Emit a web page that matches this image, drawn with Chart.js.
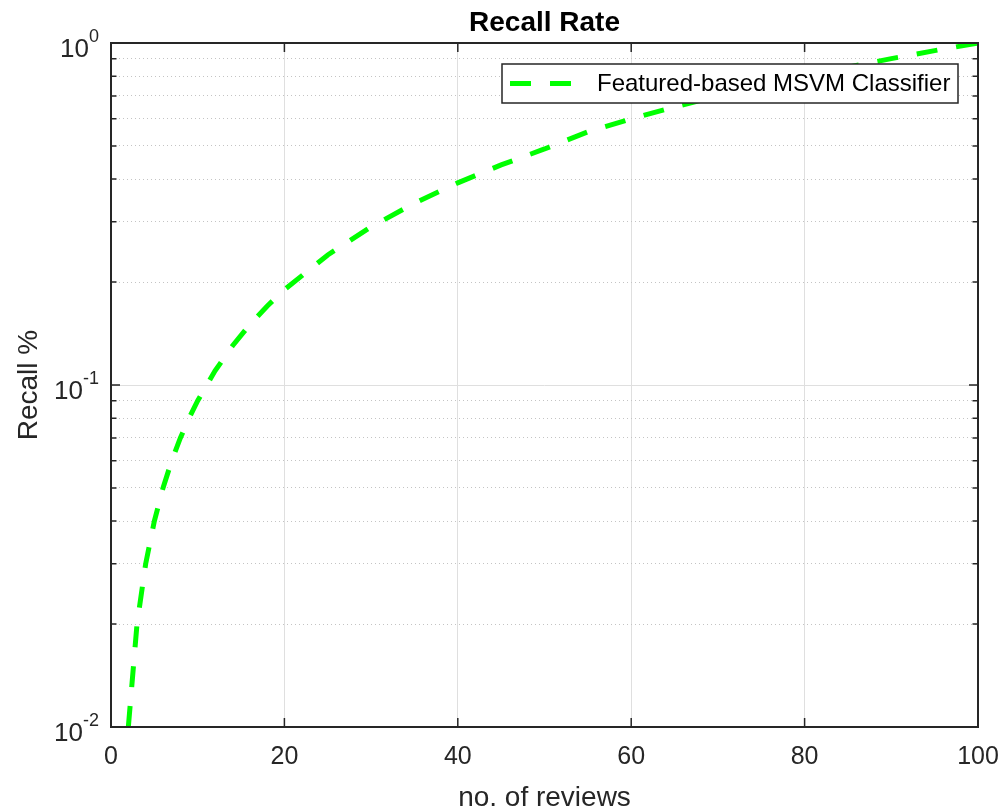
<!DOCTYPE html>
<html>
<head>
<meta charset="utf-8">
<script src="https://cdn.jsdelivr.net/npm/chart.js@4"></script>
<style>
  body { margin: 0; background: #fff; }
  canvas { display: block; }
</style>
</head>
<body>
<canvas id="recallChart" width="1007" height="812"></canvas>
<script>
// values
const reviews = [2, 3, 4, 5, 6, 7, 8, 9, 10, 12, 14, 16, 18, 20, 25, 30, 35, 40, 45, 50, 55, 60, 65, 70, 75, 80, 85, 90, 95, 100];
const recall = [0.01, 0.02, 0.03, 0.04, 0.05, 0.06, 0.07, 0.08, 0.09, 0.11, 0.13, 0.15, 0.17, 0.19, 0.24, 0.29, 0.34, 0.39, 0.44, 0.49, 0.55, 0.6, 0.65, 0.7, 0.75, 0.8, 0.85, 0.9, 0.95, 1.0];
const xTicks = [0, 20, 40, 60, 80, 100];
const yTicks = [0.01, 0.02, 0.03, 0.04, 0.05, 0.06, 0.07, 0.08, 0.09,
                0.1, 0.2, 0.3, 0.4, 0.5, 0.6, 0.7, 0.8, 0.9, 1];
const seriesName = 'Featured-based MSVM Classifier';

const FONT = '"Liberation Sans", Arial, Helvetica, sans-serif';
const AXIS = '#262626';

const isDecade = v => Math.abs(Math.log10(v) - Math.round(Math.log10(v))) < 1e-9;

// MATLAB style box, inward ticks, superscript y labels and boxed legend
const matlabAxes = {
    id: 'matlabAxes',
    afterDraw(chart) {
        const ctx = chart.ctx;
        const area = chart.chartArea;
        const xs = chart.scales.x;
        const ys = chart.scales.y;
        ctx.save();

        // ticks
        ctx.strokeStyle = AXIS;
        ctx.lineWidth = 1.5;
        ctx.beginPath();
        xTicks.forEach(v => {
            const px = xs.getPixelForValue(v);
            ctx.moveTo(px, area.bottom); ctx.lineTo(px, area.bottom - 9);
            ctx.moveTo(px, area.top); ctx.lineTo(px, area.top + 9);
        });
        yTicks.forEach(v => {
            const py = ys.getPixelForValue(v);
            const len = isDecade(v) ? 9 : 5.5;
            ctx.moveTo(area.left, py); ctx.lineTo(area.left + len, py);
            ctx.moveTo(area.right, py); ctx.lineTo(area.right - len, py);
        });
        ctx.stroke();

        // frame
        ctx.lineWidth = 2;
        ctx.strokeRect(area.left, area.top, area.right - area.left, area.bottom - area.top);

        // y tick labels 10^n
        ctx.fillStyle = AXIS;
        ctx.textBaseline = 'alphabetic';
        yTicks.filter(isDecade).forEach(v => {
            const py = ys.getPixelForValue(v);
            const exp = String(Math.round(Math.log10(v)));
            ctx.font = '18px ' + FONT;
            const ew = ctx.measureText(exp).width;
            const right = area.left - 12;
            ctx.textAlign = 'right';
            ctx.fillText(exp, right, py - 1);
            ctx.font = '26px ' + FONT;
            ctx.fillText('10', right - ew, py + 14);
        });

        // legend
        const ds = chart.data.datasets[0];
        const boxW = 456, boxH = 39;
        const bx = area.right - 20 - boxW;
        const by = area.top + 21;
        ctx.fillStyle = '#fff';
        ctx.fillRect(bx, by, boxW, boxH);
        ctx.lineWidth = 1.5;
        ctx.strokeStyle = AXIS;
        ctx.strokeRect(bx, by, boxW, boxH);
        const cy = by + boxH / 2;
        ctx.beginPath();
        ctx.setLineDash(ds.borderDash);
        ctx.lineWidth = ds.borderWidth;
        ctx.strokeStyle = ds.borderColor;
        ctx.moveTo(bx + 8, cy);
        ctx.lineTo(bx + 72, cy);
        ctx.stroke();
        ctx.setLineDash([]);
        ctx.fillStyle = '#000';
        ctx.font = '24px ' + FONT;
        ctx.textAlign = 'left';
        ctx.textBaseline = 'middle';
        ctx.fillText(ds.label, bx + 95, cy + 1);

        ctx.restore();
    }
};

const ctxRecall = document.getElementById('recallChart').getContext('2d');

const recallChart = new Chart(ctxRecall, {
    type: 'line',
    data: {
        datasets: [{
            label: seriesName,
            data: reviews.map((r, i) => ({x: r, y: recall[i]})),
            borderColor: '#00ff00',
            borderWidth: 5,
            borderDash: [21, 19],
            borderCapStyle: 'butt',
            pointRadius: 0,
            fill: false,
            tension: 0
        }]
    },
    options: {
        responsive: false,
        animation: false,
        devicePixelRatio: 1,
        layout: {
            padding: {top: 0, right: 29, left: 0, bottom: 0}
        },
        plugins: {
            legend: {display: false},
            tooltip: {enabled: false},
            title: {
                display: true,
                text: 'Recall Rate',
                fullSize: false,
                color: '#000',
                font: {family: FONT, size: 28, weight: 'bold', lineHeight: 1.2},
                padding: {top: 6, bottom: 3.4}
            }
        },
        scales: {
            x: {
                type: 'linear',
                min: 0,
                max: 100,
                afterBuildTicks: s => { s.ticks = xTicks.map(v => ({value: v})); },
                afterFit: s => { s.height = 85; s.paddingLeft = 0; s.paddingRight = 0; },
                ticks: {
                    color: AXIS,
                    font: {family: FONT, size: 25},
                    padding: 15,
                    maxRotation: 0
                },
                grid: {
                    drawTicks: false,
                    color: c => (c.tick && (c.tick.value === 0 || c.tick.value === 100)) ? 'rgba(0,0,0,0)' : '#dfdfdf',
                    lineWidth: 1
                },
                border: {display: false},
                title: {
                    display: true,
                    text: 'no. of reviews',
                    color: AXIS,
                    font: {family: FONT, size: 28, lineHeight: 1},
                    padding: {top: 0, bottom: 0}
                }
            },
            y: {
                type: 'logarithmic',
                min: 0.01,
                max: 1,
                afterBuildTicks: s => { s.ticks = yTicks.map(v => ({value: v, major: isDecade(v)})); },
                afterFit: s => { s.width = 111; s.paddingTop = 0; s.paddingBottom = 0; },
                ticks: {display: false},
                grid: {
                    drawTicks: false,
                    color: c => {
                        const v = c.tick ? c.tick.value : 0;
                        if (v === 0.01 || v === 1) return 'rgba(0,0,0,0)';
                        return isDecade(v) ? '#dfdfdf' : '#c4c4c4';
                    },
                    lineWidth: 1
                },
                border: {
                    display: false,
                    dash: c => (c.tick && !isDecade(c.tick.value)) ? [1, 3] : []
                },
                title: {
                    display: true,
                    text: 'Recall %',
                    color: AXIS,
                    font: {family: FONT, size: 28, lineHeight: 1},
                    padding: {top: 15, bottom: 0}
                }
            }
        }
    },
    plugins: [matlabAxes]
});
</script>
</body>
</html>
